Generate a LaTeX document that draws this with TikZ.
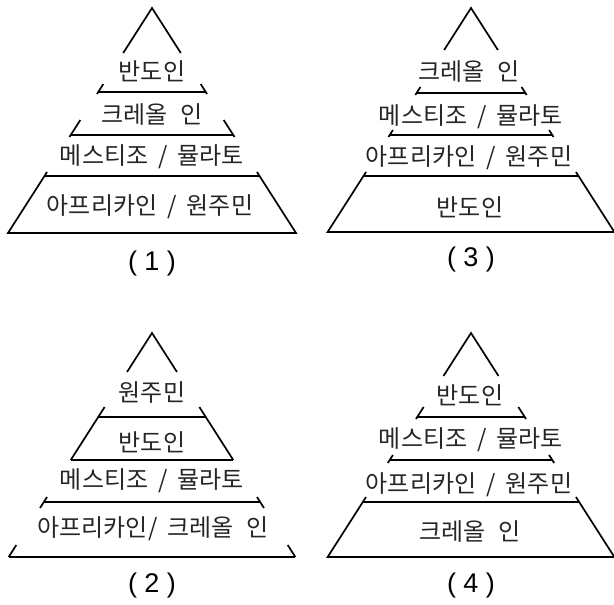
\documentclass[tikz,border=0pt]{standalone}
\usepackage{fontspec}
\setmainfont{Liberation Sans}
\newfontfamily\kr{Noto Sans CJK KR}
\newcommand\pyrslash{\hspace{0.42em}/\hspace{0.42em}}
\newcommand\pyrside[4]{% apex x, apex y, y1, y2
  \pgfmathsetmacro\pxa{#1-0.64*(#3-#2)}
  \pgfmathsetmacro\pxb{#1-0.64*(#4-#2)}
  \pgfmathsetmacro\pxc{#1+0.64*(#3-#2)}
  \pgfmathsetmacro\pxd{#1+0.64*(#4-#2)}
  \draw[pyr] (\pxa,#3) -- (\pxb,#4);
  \draw[pyr] (\pxc,#3) -- (\pxd,#4);
}
\newcommand\pyrline[3]{% apex x, apex y, y
  \pgfmathsetmacro\pxa{#1-0.64*(#3-#2)}
  \pgfmathsetmacro\pxc{#1+0.64*(#3-#2)}
  \draw[pyr] (\pxa,#3) -- (\pxc,#3);
}
\newcommand\pyrtop[3]{% apex x, apex y, y end
  \pgfmathsetmacro\pxa{#1-0.64*(#3-#2)}
  \pgfmathsetmacro\pxc{#1+0.64*(#3-#2)}
  \draw[pyr] (\pxa,#3) -- (#1,#2) -- (\pxc,#3);
}
\newcommand\pyrbase[4]{% apex x, apex y, y top, y bottom
  \pgfmathsetmacro\pxa{#1-0.64*(#3-#2)}
  \pgfmathsetmacro\pxb{#1-0.64*(#4-#2)}
  \pgfmathsetmacro\pxc{#1+0.64*(#3-#2)}
  \pgfmathsetmacro\pxd{#1+0.64*(#4-#2)}
  \draw[pyr] (\pxa,#3) -- (\pxb,#4) -- (\pxd,#4) -- (\pxc,#3);
}
\tikzset{
  pyr/.style={line width=1.7pt, line join=miter},
  lay/.style={font=\kr\fontsize{24}{28}\selectfont, inner sep=0pt, text=black!85},
  numlabel/.style={font=\fontsize{27}{31}\selectfont, inner sep=0pt}
}
\begin{document}
\begin{tikzpicture}[x=1pt,y=-1pt]
\useasboundingbox (0,0) rectangle (614,605);
% ---------- (1) ----------
\pyrtop{152}{8}{53}
\pyrside{152}{8}{84}{94}
\pyrline{152}{8}{92}
\pyrside{152}{8}{120}{137}
\pyrline{152}{8}{135}
\pyrbase{152}{8}{172}{233}
\pyrline{152}{8}{176}
\node[lay] (a1) at (152,71) {반도인};
\node[lay] (a2) at (152,115) {크레올\hspace{0.3em} 인};
\node[lay] (a3) at (152,157) {메스티조\pyrslash 뮬라토};
\node[lay] (a4) at (150,207) {아프리카인\pyrslash 원주민};
\node[numlabel] (c1) at (152,264) {( 1 )};
% ---------- (3) ----------
\pyrtop{471}{8}{50}
\pyrside{471}{8}{87}{95}
\pyrline{471}{8}{93}
\pyrside{471}{8}{130}{137}
\pyrline{471}{8}{135}
\pyrbase{471}{8}{172}{232}
\pyrline{471}{8}{176}
\node[lay] (b1) at (469,72) {크레올\hspace{0.3em} 인};
\node[lay] (b2) at (471,117) {메스티조\pyrslash 뮬라토};
\node[lay] (b3) at (469,158) {아프리카인\pyrslash 원주민};
\node[lay] (b4) at (470,207) {반도인};
\node[numlabel] (c3) at (471,260) {( 3 )};
% ---------- (2) ----------
\pyrtop{152}{333}{372}
\pyrside{152}{333}{407}{460}
\pyrline{152}{333}{417}
\pyrline{152}{333}{460}
\pyrside{152}{333}{497}{508}
\pyrline{152}{333}{502}
\pyrside{152}{333}{545}{557}
\pyrline{152}{333}{557}
\node[lay] (d1) at (152,393) {원주민};
\node[lay] (d2) at (152,442) {반도인};
\node[lay] (d3) at (152,481) {메스티조\pyrslash 뮬라토};
\node[lay] (d4) at (153,529) {아프리카인/\hspace{0.42em}크레올\hspace{0.3em} 인};
\node[numlabel] (c2) at (152,586) {( 2 )};
% ---------- (4) ----------
\pyrtop{471}{333}{376}
\pyrside{471}{333}{407}{419}
\pyrline{471}{333}{417}
\pyrside{471}{333}{455}{463}
\pyrline{471}{333}{460}
\pyrbase{471}{333}{497}{557}
\pyrline{471}{333}{502}
\node[lay] (e1) at (470,395) {반도인};
\node[lay] (e2) at (471,440) {메스티조\pyrslash 뮬라토};
\node[lay] (e3) at (469,485) {아프리카인\pyrslash 원주민};
\node[lay] (e4) at (470,532) {크레올\hspace{0.3em} 인};
\node[numlabel] (c4) at (471,586) {( 4 )};
\end{tikzpicture}
\end{document}
